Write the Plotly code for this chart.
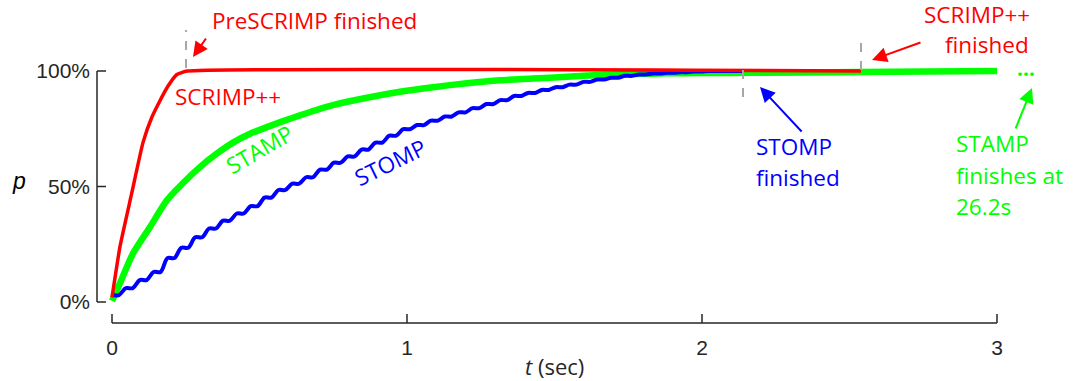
import plotly.graph_objects as go

# ---------------- data ----------------
red_x = [0.0, 0.027, 0.065, 0.105, 0.135, 0.160, 0.190, 0.220, 0.255, 2.539]
red_y = [0.02, 0.24, 0.46, 0.69, 0.80, 0.865, 0.935, 0.985, 1.0, 1.0]

green_x = [0.0, 0.027, 0.071, 0.129, 0.186, 0.241, 0.298, 0.356, 0.410, 0.468,
           0.525, 0.580, 0.637, 0.695, 0.749, 0.864, 0.976, 1.088, 1.203, 1.315,
           1.427, 1.542, 1.654, 1.766, 1.881, 1.993, 2.173, 2.536, 3.0]
green_y = [0.005, 0.082, 0.210, 0.325, 0.440, 0.515, 0.584, 0.643, 0.690, 0.728,
           0.757, 0.783, 0.808, 0.832, 0.852, 0.884, 0.910, 0.930, 0.947, 0.960,
           0.967, 0.975, 0.983, 0.987, 0.990, 0.991, 0.992, 0.996, 1.0]

# STOMP progresses in small plateaus: start of each plateau and its level
blue_x = [0.0, 0.047, 0.094, 0.141, 0.188, 0.235, 0.282, 0.329, 0.376, 0.423,
          0.470, 0.517, 0.564, 0.611, 0.658, 0.705, 0.752, 0.799, 0.846, 0.893,
          0.940, 0.987, 1.034, 1.081, 1.128, 1.175, 1.222, 1.269, 1.316, 1.363,
          1.410, 1.457, 1.504, 1.551, 1.598, 1.645, 1.692, 1.739, 1.786, 1.833,
          1.880, 1.927, 1.974, 2.021, 2.068, 2.115, 2.139]
blue_y = [0.03, 0.06, 0.095, 0.13, 0.19, 0.235, 0.28, 0.318, 0.352, 0.383,
          0.415, 0.452, 0.485, 0.512, 0.54, 0.573, 0.603, 0.63, 0.66, 0.69,
          0.72, 0.748, 0.766, 0.785, 0.803, 0.821, 0.839, 0.857, 0.874, 0.892,
          0.905, 0.918, 0.93, 0.941, 0.953, 0.963, 0.971, 0.979, 0.985, 0.989,
          0.992, 0.995, 0.998, 1.0, 1.0, 1.0, 1.0]

prescrimp_finish = 0.251
stomp_finish = 2.139
scrimp_finish = 2.539

x_ticks = [0, 1, 2, 3]
x_ticktext = ["0", "1", "2", "3"]
y_ticks = [0, 0.5, 1]
y_ticktext = ["0%", "50%", "100%"]

# ---------------- layout geometry (page pixels) ----------------
W, H = 1074, 381
X0PX, XS = 112.0, 295.0      # page pixel of t=0, pixels per second
Y0PX, YS = 302.0, 231.0      # page pixel of p=0, pixels per unit
PL, PB = 94, 329             # plot-area left / bottom edge
PT, PR = 0, W                # plot-area top / right


def dx(px):
    return (px - X0PX) / XS


def dy(py):
    return (Y0PX - py) / YS


def paper_x(px):
    return (px - PL) / (PR - PL)


def paper_y(py):
    return (PB - py) / (PB - PT)


RED, GREEN, BLUE = "#FF0000", "#00FF00", "#0000FF"
AXC = "#262626"
ANN_FONT = "Open Sans"
TICK_FONT = "Liberation Sans, Arial"

# plateau table for the STOMP line
bx, by = [], []
for i in range(len(blue_x) - 1):
    bx += [blue_x[i], blue_x[i] + 0.5 * (blue_x[i + 1] - blue_x[i])]
    by += [blue_y[i], blue_y[i]]
bx.append(blue_x[-1])
by.append(blue_y[-1])

fig = go.Figure()
fig.add_trace(go.Scatter(x=green_x, y=green_y, mode="lines", line_shape="spline",
                         line=dict(color=GREEN, width=6.5, smoothing=0.6), showlegend=False))
fig.add_trace(go.Scatter(x=bx, y=by, mode="lines", line_shape="spline",
                         line=dict(color=BLUE, width=4, smoothing=0.9), showlegend=False))
fig.add_trace(go.Scatter(x=red_x, y=red_y, mode="lines", line_shape="spline",
                         line=dict(color=RED, width=3.5, smoothing=0.4), showlegend=False))

shapes = []
ax_y = dy(323)
ax_x = dx(97)
shapes.append(dict(type="line", xref="x", yref="y", x0=0, x1=3, y0=ax_y, y1=ax_y,
                   line=dict(color=AXC, width=1.5)))
for v in x_ticks:
    shapes.append(dict(type="line", xref="x", yref="y", ysizemode="pixel", yanchor=ax_y,
                       x0=v, x1=v, y0=0, y1=9, line=dict(color=AXC, width=1.5)))
shapes.append(dict(type="line", xref="x", yref="y", x0=ax_x, x1=ax_x, y0=0, y1=1,
                   line=dict(color=AXC, width=1.5)))
for v in y_ticks:
    shapes.append(dict(type="line", xref="x", yref="y", xsizemode="pixel", xanchor=ax_x,
                       x0=0, x1=9, y0=v, y1=v, line=dict(color=AXC, width=1.5)))
DASH = dict(color="#A6A6A6", width=2, dash="dash")
shapes.append(dict(type="line", xref="x", yref="y", x0=prescrimp_finish, x1=prescrimp_finish,
                   y0=dy(68), y1=dy(30), line=DASH))
shapes.append(dict(type="line", xref="x", yref="y", x0=scrimp_finish, x1=scrimp_finish,
                   y0=dy(70), y1=dy(35), line=DASH))
shapes.append(dict(type="line", xref="x", yref="y", x0=stomp_finish, x1=stomp_finish,
                   y0=dy(70), y1=dy(103), line=DASH))

anns = []
TS = 22.5


def text(px, py, s, color, xanchor="center", angle=0, size=TS):
    anns.append(dict(x=dx(px), y=dy(py - 2), xref="x", yref="y", text=s, showarrow=False,
                     xanchor=xanchor, yanchor="middle", textangle=angle,
                     font=dict(family=ANN_FONT, size=size, color=color)))


def arrow(tail, head, color):
    anns.append(dict(x=dx(head[0]), y=dy(head[1]), ax=dx(tail[0]), ay=dy(tail[1]),
                     xref="x", yref="y", axref="x", ayref="y", text="", showarrow=True,
                     arrowhead=2, arrowsize=1.5, arrowwidth=2, arrowcolor=color,
                     standoff=0, startstandoff=0))


text(314, 22, "PreSCRIMP finished", RED)
arrow((207, 37), (193, 57), RED)
text(228, 98, "SCRIMP++", RED)
text(259, 151, "STAMP", GREEN, angle=-30)
text(390, 164, "STOMP", BLUE, angle=-26)
text(1032, 16, "SCRIMP++", RED, xanchor="right")
text(1031, 46, "finished", RED, xanchor="right")
arrow((922, 42), (872, 60), RED)
text(754, 148, "STOMP", BLUE, xanchor="left")
text(754, 179, "finished", BLUE, xanchor="left")
arrow((803, 133), (760, 87), BLUE)
text(954, 145, "STAMP", GREEN, xanchor="left")
text(954, 177, "finishes at", GREEN, xanchor="left")
text(954, 208, "26.2s", GREEN, xanchor="left")
arrow((1015, 130), (1032, 88), GREEN)
anns.append(dict(x=dx(1026), y=dy(68), xref="x", yref="y", text="<b>...</b>",
                 showarrow=False, xanchor="center", yanchor="middle",
                 font=dict(family=ANN_FONT, size=21, color=GREEN)))

# axis titles (paper coordinates, outside the plotted range)
anns.append(dict(x=paper_x(554), y=paper_y(366), xref="paper", yref="paper",
                 text="<i>t</i> (sec)", showarrow=False, xanchor="center", yanchor="middle",
                 font=dict(family=ANN_FONT, size=22, color=AXC)))
anns.append(dict(x=paper_x(19), y=paper_y(181), xref="paper", yref="paper", text="<i>p</i>",
                 showarrow=False, xanchor="center", yanchor="middle",
                 font=dict(family=TICK_FONT, size=23, color="#000000")))

fig.update_layout(
    width=W, height=H, autosize=False,
    margin=dict(l=PL, r=W - PR, t=PT, b=H - PB, pad=0),
    paper_bgcolor="white", plot_bgcolor="white",
    shapes=shapes, annotations=anns, showlegend=False,
    xaxis=dict(range=[dx(PL), dx(PR)], showgrid=False, zeroline=False, showline=False,
               tickmode="array", tickvals=x_ticks, ticktext=x_ticktext, ticks="",
               ticklabelstandoff=4,
               tickfont=dict(family=TICK_FONT, size=21, color=AXC)),
    yaxis=dict(range=[dy(PB), dy(PT)], showgrid=False, zeroline=False, showline=False,
               tickmode="array", tickvals=y_ticks, ticktext=y_ticktext, ticks="",
               ticklabelstandoff=3,
               tickfont=dict(family=TICK_FONT, size=21, color=AXC)),
)

# remove the browser's default 8px page margin so the figure fills the window
fig.write_html("out.html",
               config={"displayModeBar": False, "staticPlot": True},
               post_script="document.body.style.margin='0px';"
                           "document.body.style.overflow='hidden';")
